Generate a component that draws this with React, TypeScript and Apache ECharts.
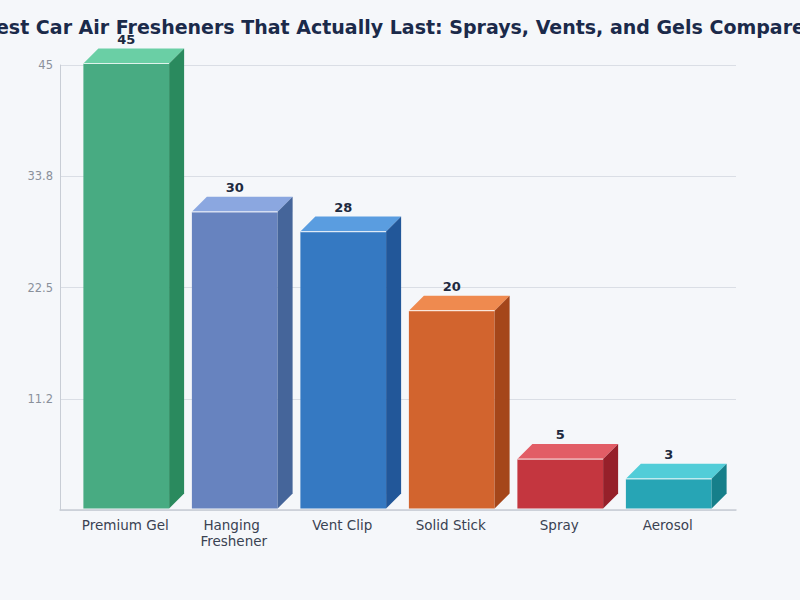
import React, { useEffect, useRef } from "react";
import * as echarts from "echarts";

const title = "Best Car Air Fresheners That Actually Last: Sprays, Vents, and Gels Compared";
const categories = ["Premium Gel", "Hanging Freshener", "Vent Clip", "Solid Stick", "Spray", "Aerosol"];
const values = [45, 30, 28, 20, 5, 3];
const yTickLabels = ["", "11.2", "22.5", "33.8", "45"];
const frontColors = ["#48ab82", "#6783bf", "#3579c2", "#d2642e", "#c4363f", "#27a5b5"];
const topColors = ["#6acfa5", "#8ba7e0", "#5a9de0", "#ef8a4f", "#e25d66", "#52cdd8"];
const sideColors = ["#2a8a5e", "#45659a", "#225799", "#a5461a", "#96202a", "#167f8a"];

export default function App() {
  const ref = useRef<HTMLDivElement>(null);
  useEffect(() => {
    const chart = echarts.init(ref.current!, null, { renderer: "svg" });
    const depth = 15;
    const option: any = {
      animation: false,
      backgroundColor: "#f5f7fa",
      title: {
        text: title,
        left: "center",
        top: 12,
        textStyle: { fontSize: 19, fontWeight: "bold", color: "#1b2a4a", fontFamily: "DejaVu Sans" },
      },
      grid: [
        { left: 60, right: 64, top: 65, bottom: 90 },
        { left: 71, right: 78, top: 65, bottom: 90 },
      ],
      xAxis: [
        {
          gridIndex: 0,
          type: "category",
          data: categories,
          axisLine: { show: true, lineStyle: { color: "#c8cdd5", width: 1.5 } },
          axisTick: { show: false },
          axisLabel: { show: false },
        },
        {
          gridIndex: 1,
          type: "category",
          data: categories,
          axisLine: { show: false },
          axisTick: { show: false },
          axisLabel: {
            interval: 0,
            color: "#3a4252",
            fontSize: 13.5,
            fontFamily: "DejaVu Sans",
            margin: 7,
            lineHeight: 16,
            width: 100,
            overflow: "break",
          },
        },
      ],
      yAxis: [
        {
          gridIndex: 0,
          type: "value",
          min: 0,
          max: 45,
          interval: 11.25,
          axisLine: { show: true, lineStyle: { color: "#c8cdd5", width: 1 } },
          axisTick: { show: false },
          splitLine: { show: true, lineStyle: { color: "#dadee5", width: 1 } },
          axisLabel: {
            color: "#8a909b",
            fontSize: 11.5,
            fontFamily: "DejaVu Sans",
            margin: 7,
            formatter: (_v: number, i: number) => yTickLabels[i] ?? "",
          },
        },
        {
          gridIndex: 1,
          type: "value",
          min: 0,
          max: 45,
          show: false,
          splitLine: { show: false },
        },
      ],
      series: [
        {
          type: "custom",
          xAxisIndex: 1,
          yAxisIndex: 1,
          clip: false,
          data: values.map((v, i) => [i, v]),
          renderItem: (params: any, api: any) => {
            const i = api.value(0);
            const v = api.value(1);
            const top = api.coord([i, v]);
            const bot = api.coord([i, 0]);
            const w = api.size([1, 0])[0] * 0.79;
            const x0 = top[0] - w / 2 + 1;
            const x1 = x0 + w;
            const yT = top[1] - 1.5;
            const yB = bot[1] - 1.5;
            return {
              type: "group",
              children: [
                {
                  type: "rect",
                  shape: { x: x0, y: yT, width: w, height: yB - yT },
                  style: { fill: frontColors[i] },
                },
                {
                  type: "polygon",
                  shape: { points: [[x0, yT], [x1, yT], [x1 + depth, yT - depth], [x0 + depth, yT - depth]] },
                  style: { fill: topColors[i] },
                },
                {
                  type: "polygon",
                  shape: { points: [[x1, yT], [x1 + depth, yT - depth], [x1 + depth, yB - depth], [x1, yB]] },
                  style: { fill: sideColors[i] },
                },
                {
                  type: "line",
                  shape: { x1: x0, y1: yT, x2: x1, y2: yT },
                  style: { stroke: "rgba(255,255,255,0.75)", lineWidth: 1.2 },
                },
                {
                  type: "text",
                  style: {
                    text: String(v),
                    x: (x0 + x1) / 2,
                    y: yT - depth - 3,
                    align: "center",
                    verticalAlign: "bottom",
                    fill: "#1e2a3f",
                    font: "bold 13px 'DejaVu Sans'",
                  },
                },
              ],
            };
          },
        },
      ],
    };
    chart.setOption(option);
    return () => chart.dispose();
  }, []);
  return <div ref={ref} style={{ width: 800, height: 600, position: "absolute", left: 0, top: 0 }} />;
}
